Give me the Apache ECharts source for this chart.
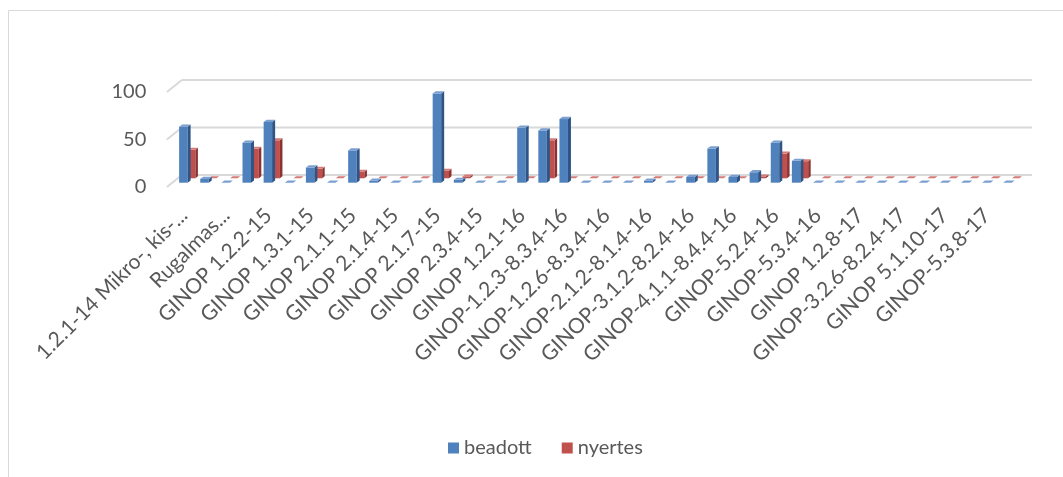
<!DOCTYPE html>
<html>
<head>
<meta charset="utf-8">
<script src="https://cdn.jsdelivr.net/npm/echarts@6/dist/echarts.min.js"></script>
<style>
  html, body { margin: 0; padding: 0; background: #ffffff; }
  #chart { width: 1063px; height: 477px; }
</style>
</head>
<body>
<div id="chart"></div>
<script>
// ---- data ----
const categories = [
  "1.2.1-14 Mikro-, kis-...", "(rejtett 1)",
  "Rugalmas...", "(rejtett 2)",
  "GINOP 1.2.2-15", "(rejtett 3)",
  "GINOP 1.3.1-15", "(rejtett 4)",
  "GINOP 2.1.1-15", "(rejtett 5)",
  "GINOP 2.1.4-15", "(rejtett 6)",
  "GINOP 2.1.7-15", "(rejtett 7)",
  "GINOP 2.3.4-15", "(rejtett 8)",
  "GINOP 1.2.1-16", "(rejtett 9)",
  "GINOP-1.2.3-8.3.4-16", "(rejtett 10)",
  "GINOP-1.2.6-8.3.4-16", "(rejtett 11)",
  "GINOP-2.1.2-8.1.4-16", "(rejtett 12)",
  "GINOP-3.1.2-8.2.4-16", "(rejtett 13)",
  "GINOP-4.1.1-8.4.4-16", "(rejtett 14)",
  "GINOP-5.2.4-16", "(rejtett 15)",
  "GINOP-5.3.4-16", "(rejtett 16)",
  "GINOP 1.2.8-17", "(rejtett 17)",
  "GINOP-3.2.6-8.2.4-17", "(rejtett 18)",
  "GINOP 5.1.10-17", "(rejtett 19)",
  "GINOP-5.3.8-17", "(rejtett 20)"
];
const beadott = [59, 4, 0, 42, 64, 0, 16, 0, 34, 2,
                 0, 0, 94, 3, 0, 0, 58, 55, 67, 0,
                 0, 0, 2, 0, 6, 36, 6, 11, 42, 23,
                 0, 0, 0, 0, 0, 0, 0, 0, 0, 0];
const nyertes = [30, 0, 0, 31, 40, 0, 10, 0, 7, 0,
                 0, 0, 8, 2, 0, 0, 0, 40, 0, 0,
                 0, 0, 0, 0, 0, 0, 0, 2, 26, 18,
                 0, 0, 0, 0, 0, 0, 0, 0, 0, 0];
const yTicks = [0, 50, 100];
const seriesNames = ["beadott", "nyertes"];

// ---- drawing helpers ----
const FONT = "Lato";
const N = categories.length;

function boxRenderer(cfg) {
  return function (params, api) {
    const i = api.value(0);
    const v = api.value(1);
    const base = api.coord([i, 0]);
    const top = api.coord([i, v]);
    const x0 = base[0] + cfg.ox - cfg.w / 2;
    const x1 = x0 + cfg.w;
    const yb = base[1] + cfg.oy;
    const yt = top[1] + cfg.oy;
    const sx = cfg.sx, sy = cfg.sy;
    const children = [];
    if (yb - yt > 0.01) {
      children.push({
        type: 'rect',
        shape: { x: x0, y: yt, width: cfg.w, height: yb - yt },
        style: { fill: cfg.front }
      });
      children.push({
        type: 'polygon',
        shape: { points: [[x1, yb], [x1 + sx, yb - sy], [x1 + sx, yt - sy], [x1, yt]] },
        style: { fill: cfg.side }
      });
    }
    children.push({
      type: 'polygon',
      shape: { points: [[x0, yt], [x1, yt], [x1 + sx, yt - sy], [x0 + sx, yt - sy]] },
      style: { fill: cfg.top }
    });
    return { type: 'group', children: children };
  };
}

function wallRenderer(params, api) {
  const v = api.value(1);
  const p0 = api.coord([0, v]);
  const p1 = api.coord([N - 1, v]);
  const xs = p0[0] - 2;
  const xe = p1[0] + 24;
  const y = p0[1];
  return {
    type: 'group',
    children: [
      { type: 'line', shape: { x1: xs - 15, y1: y + 12, x2: xs, y2: y },
        style: { stroke: '#d9d9d9', lineWidth: 2 } },
      { type: 'line', shape: { x1: xs, y1: y, x2: xe, y2: y },
        style: { stroke: '#d9d9d9', lineWidth: 2 } }
    ]
  };
}

const blueCfg = { ox: -0.5, oy: 7.7, w: 8.5, sx: 3, sy: 2.2,
  front: '#4f81bd', side: '#2f5587', top: '#7a9fd0' };
const redCfg = { ox: 7.8, oy: 3.3, w: 7.5, sx: 2.5, sy: 2,
  front: '#c0504d', side: '#8a3331', top: '#d47b78' };

const chart = echarts.init(document.getElementById('chart'), null, { renderer: 'canvas' });

chart.setOption({
  backgroundColor: '#ffffff',
  animation: false,
  textStyle: { fontFamily: FONT },
  graphic: [{
    type: 'rect',
    shape: { x: 8.5, y: 10.5, width: 1070, height: 480 },
    style: { fill: 'none', stroke: '#d9d9d9', lineWidth: 1 },
    silent: true, z: -10
  }],
  legend: {
    data: [
      { name: seriesNames[0], itemStyle: { color: '#4f81bd' } },
      { name: seriesNames[1], itemStyle: { color: '#c0504d' } }
    ],
    left: 443,
    top: 433,
    itemWidth: 11,
    itemHeight: 11,
    itemGap: 30,
    icon: 'rect',
    textStyle: { fontFamily: FONT, fontSize: 20, color: '#595959' }
  },
  grid: { left: 173.3, right: 44.5, top: 80, bottom: 302, containLabel: false },
  xAxis: {
    type: 'category',
    data: categories,
    boundaryGap: true,
    axisLine: { show: false },
    axisTick: { show: false },
    splitLine: { show: false },
    axisLabel: {
      interval: 1,
      rotate: 45,
      margin: 37,
      fontFamily: FONT,
      fontSize: 21,
      color: '#595959'
    }
  },
  yAxis: {
    type: 'value',
    min: 0,
    max: 100,
    interval: 50,
    axisLine: { show: false },
    axisTick: { show: false },
    splitLine: { show: false },
    axisLabel: {
      margin: 27,
      fontFamily: FONT,
      fontSize: 20,
      color: '#595959',
      verticalAlign: 'top',
      lineHeight: 24
    }
  },
  series: [
    {
      name: 'wall',
      type: 'custom',
      silent: true,
      z: 1,
      renderItem: wallRenderer,
      data: yTicks.map(function (t) { return [0, t]; }),
      encode: { x: 0, y: 1 }
    },
    {
      name: seriesNames[1],
      type: 'custom',
      z: 2,
      itemStyle: { color: '#c0504d' },
      renderItem: boxRenderer(redCfg),
      data: nyertes.map(function (v, i) { return [i, v]; }),
      encode: { x: 0, y: 1 }
    },
    {
      name: seriesNames[0],
      type: 'custom',
      z: 3,
      itemStyle: { color: '#4f81bd' },
      renderItem: boxRenderer(blueCfg),
      data: beadott.map(function (v, i) { return [i, v]; }),
      encode: { x: 0, y: 1 }
    }
  ]
});
</script>
</body>
</html>
